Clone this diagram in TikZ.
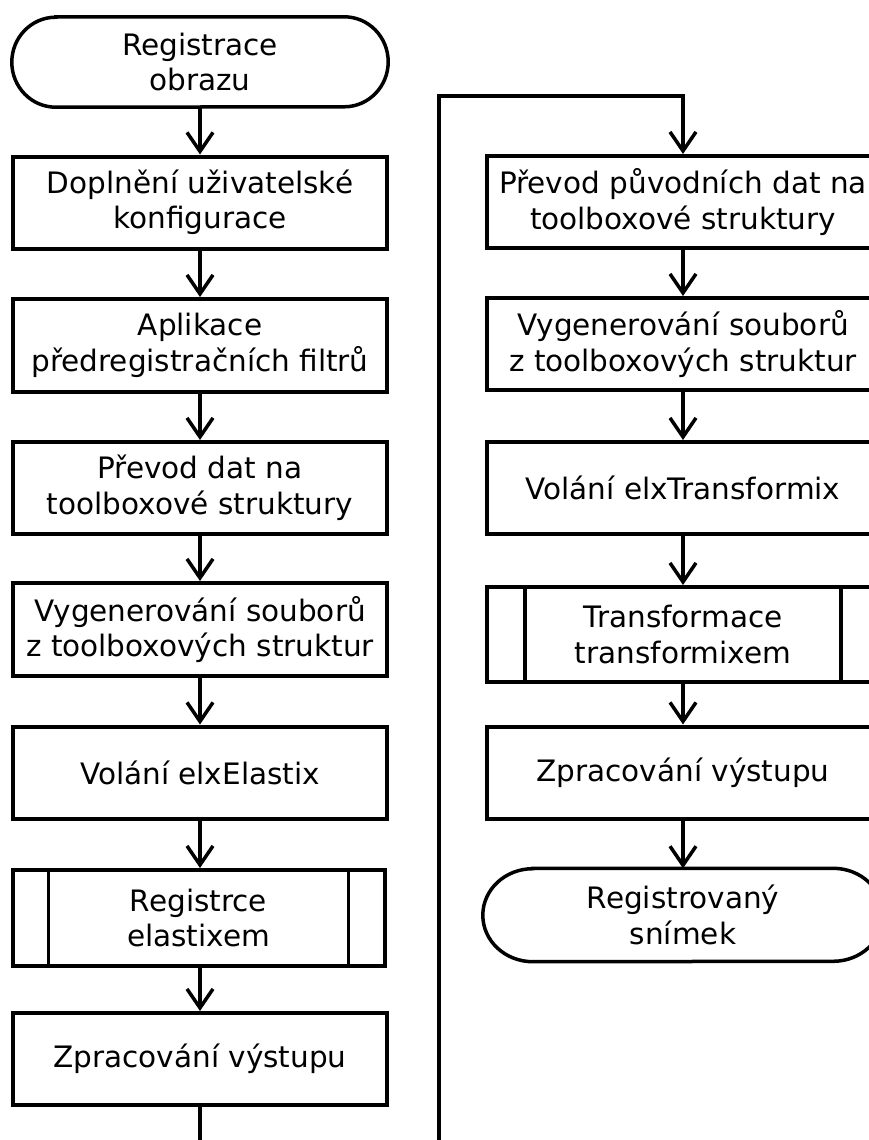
\documentclass[tikz,border=0pt]{standalone}
\usepackage{fontspec}
\setmainfont{DejaVu Sans}
\usetikzlibrary{arrows.meta}
\begin{document}
\begin{tikzpicture}[x=1pt,y=-1pt,
  every node/.style={font=\fontsize{29.5}{35.5}\selectfont, align=center, inner sep=0pt},
  proc/.style={draw, line width=4pt, minimum height=92pt},
  lproc/.style={proc, minimum width=374pt},
  rproc/.style={proc, minimum width=392pt},
  term/.style={minimum height=90pt},
  flow/.style={line width=3.5pt, -{Straight Barb[length=19pt,width=26pt]}},
  plain/.style={line width=3.5pt}]
\clip (0,0) rectangle (869,1140);
\fill[white] (0,0) rectangle (869,1140);

% left column
\node[term, minimum width=376pt] (start) at (200,62) {Registrace\\obrazu};
\draw[line width=3.5pt] ([xshift=44pt]start.north west) -- ([xshift=-44pt]start.north east)
  arc[start angle=90, end angle=-90, x radius=44pt, y radius=45pt]
  -- ([xshift=44pt]start.south west)
  arc[start angle=270, end angle=90, x radius=44pt, y radius=45pt] -- cycle;
\node[lproc] (b1) at (200,202.5) {Doplnění uživatelské\\konfigurace};
\node[lproc, minimum height=93pt] (b2) at (200,345.5) {Aplikace\\předregistračních filtrů};
\node[lproc] (b3) at (200,488) {Převod dat na\\toolboxové struktury};
\node[lproc, minimum height=93pt] (b4) at (200,629.5) {Vygenerování souborů\\z toolboxových struktur};
\node[lproc] (b5) at (200,772.5) {Volání elxElastix};
\node[proc, minimum width=372pt, minimum height=96pt] (b6) at (198.5,918) {Registrce\\elastixem};
\draw[line width=3.5pt] ([xshift=38pt]b6.north west) -- ([xshift=38pt]b6.south west)
  ([xshift=-38pt]b6.north east) -- ([xshift=-38pt]b6.south east);
\node[lproc] (b7) at (200,1059) {Zpracování výstupu};

% right column
\node[rproc] (r1) at (683,202) {Převod původních dat na\\toolboxové struktury};
\node[rproc] (r2) at (683,344) {Vygenerování souborů\\z toolboxových struktur};
\node[rproc] (r3) at (683,488) {Volání elxTransformix};
\node[proc, minimum width=392pt, minimum height=95pt] (r4) at (683,634.5) {Transformace\\transformixem};
\draw[line width=3.5pt] ([xshift=40pt]r4.north west) -- ([xshift=40pt]r4.south west)
  ([xshift=-40pt]r4.north east) -- ([xshift=-40pt]r4.south east);
\node[rproc] (r5) at (683,772.5) {Zpracování výstupu};
\node[term, minimum width=400pt, minimum height=93pt] (end) at (683,915) {Registrovaný\\snímek};
\draw[line width=3.5pt] ([xshift=50pt]end.north west) -- ([xshift=-50pt]end.north east)
  arc[start angle=90, end angle=-90, x radius=50pt, y radius=46.5pt]
  -- ([xshift=50pt]end.south west)
  arc[start angle=270, end angle=90, x radius=50pt, y radius=46.5pt] -- cycle;

% connectors
\draw[flow] (start.south) -- (b1.north);
\draw[flow] (b1) -- (b2);
\draw[flow] (b2) -- (b3);
\draw[flow] (b3) -- (b4);
\draw[flow] (b4) -- (b5);
\draw[flow] (b5.south) -- (b6.north -| b5.south);
\draw[flow] (b6.south -| b7.north) -- (b7.north);
\coordinate (lend) at (200,1145);
\draw[plain] (b7.south) -- (lend);
\coordinate (cin) at (439,1145);
\coordinate (ctop) at (439,96);
\draw[flow] (cin) -- (ctop) -| (r1.north);
\draw[flow] (r1) -- (r2);
\draw[flow] (r2) -- (r3);
\draw[flow] (r3) -- (r4);
\draw[flow] (r4) -- (r5);
\draw[flow] (r5.south) -- (end.north);
\end{tikzpicture}
\end{document}
